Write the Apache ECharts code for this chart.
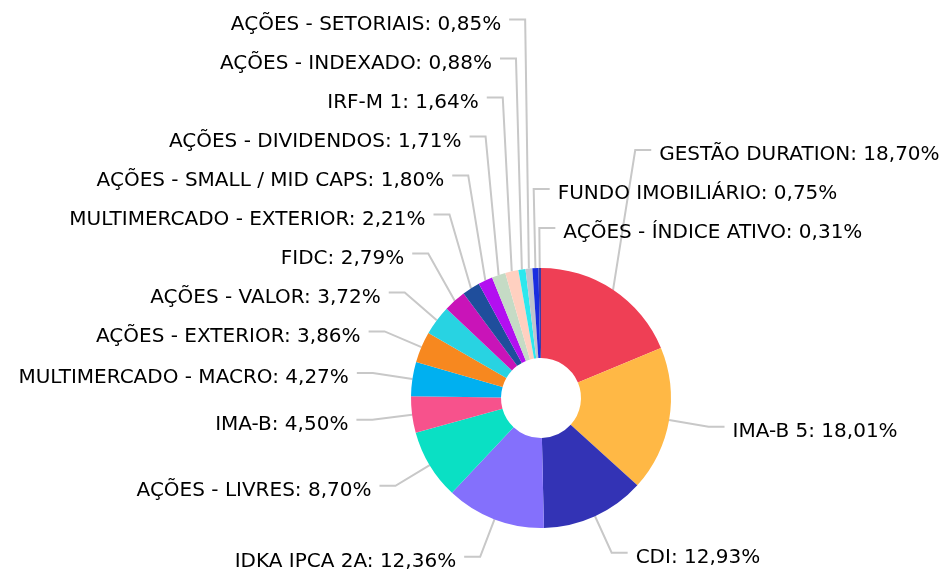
<!DOCTYPE html>
<html><head><meta charset="utf-8">
<script src="https://cdn.jsdelivr.net/npm/echarts@6/dist/echarts.min.js"></script>
<style>html,body{margin:0;padding:0;background:#fff}#c{width:947px;height:573px}</style>
</head><body><div id="c"></div>
<script>
const categories = [
  'GESTÃO DURATION','IMA-B 5','CDI','IDKA IPCA 2A','AÇÕES - LIVRES','IMA-B',
  'MULTIMERCADO - MACRO','AÇÕES - EXTERIOR','AÇÕES - VALOR','FIDC',
  'MULTIMERCADO - EXTERIOR','AÇÕES - SMALL / MID CAPS','AÇÕES - DIVIDENDOS',
  'IRF-M 1','AÇÕES - INDEXADO','AÇÕES - SETORIAIS','FUNDO IMOBILIÁRIO','AÇÕES - ÍNDICE ATIVO'
];
const values = [18.70,18.01,12.93,12.36,8.70,4.50,4.27,3.86,3.72,2.79,2.21,1.80,1.71,1.64,0.88,0.85,0.75,0.31];
const colors = ['#ef3f55','#ffb845','#3333b5','#8470fc','#0ae0c4','#f7528c','#00b0f0','#f7881f','#28d3e2','#c914b8','#1f4e9c','#b30ff0','#c5dbc5','#ffd0c0','#2ce8ee','#c0c4cc','#1a2ee0','#3c3ca8'];

// geometry / layout settings
const CX = 541, CY = 398, R_IN = 40, R_OUT = 130;
const LEN = 40, LEN2 = 16, GAP = 8, STEP = 39, TEXT_DY = 5;

// label layout: bend point on a circle along each slice's mid angle, stacked vertically
const total = values.reduce((a, b) => a + b, 0);
const layouts = [];
let cum = 0;
values.forEach((v, i) => {
  const mid = (cum + v / 2) / total * Math.PI * 2; // clockwise from top
  cum += v;
  const s = Math.sin(mid), c = Math.cos(mid);
  layouts.push({
    i, mid,
    px: CX + R_OUT * s, py: CY - R_OUT * c,
    bx: CX + (R_OUT + LEN) * s, by: CY - (R_OUT + LEN) * c,
    right: s > -0.06
  });
});
function pushUp(list) {
  for (let k = list.length - 2; k >= 0; k--) {
    list[k].by = Math.min(list[k].by, list[k + 1].by - STEP);
  }
}
const left = layouts.filter(l => !l.right).sort((a, b) => a.by - b.by);
pushUp(left);
const rightTop = layouts.filter(l => l.right && l.by < CY).sort((a, b) => a.mid - b.mid);
pushUp(rightTop);

const chart = echarts.init(document.getElementById('c'));
chart.setOption({
  animation: false,
  series: [{
    type: 'pie',
    center: [CX, CY],
    radius: [R_IN, R_OUT],
    startAngle: 90,
    clockwise: true,
    avoidLabelOverlap: false,
    data: categories.map((n, i) => ({ name: n, value: values[i], itemStyle: { color: colors[i] } })),
    label: {
      show: true,
      color: '#000',
      fontFamily: 'DejaVu Sans',
      fontSize: 20,
      formatter: p => p.name + ': ' + values[p.dataIndex].toFixed(2).replace('.', ',') + '%'
    },
    labelLine: { show: true, length: LEN, length2: LEN2, smooth: false, lineStyle: { color: '#c8c8c8', width: 2 } },
    labelLayout: function (params) {
      const l = layouts[params.dataIndex];
      const dir = l.right ? 1 : -1;
      const ex = l.bx + dir * LEN2;
      return {
        x: ex + dir * GAP,
        y: l.by + TEXT_DY,
        align: l.right ? 'left' : 'right',
        verticalAlign: 'middle',
        labelLinePoints: [[l.px, l.py], [l.bx, l.by], [ex, l.by]]
      };
    },
    itemStyle: { borderWidth: 0 }
  }]
});
</script></body></html>
